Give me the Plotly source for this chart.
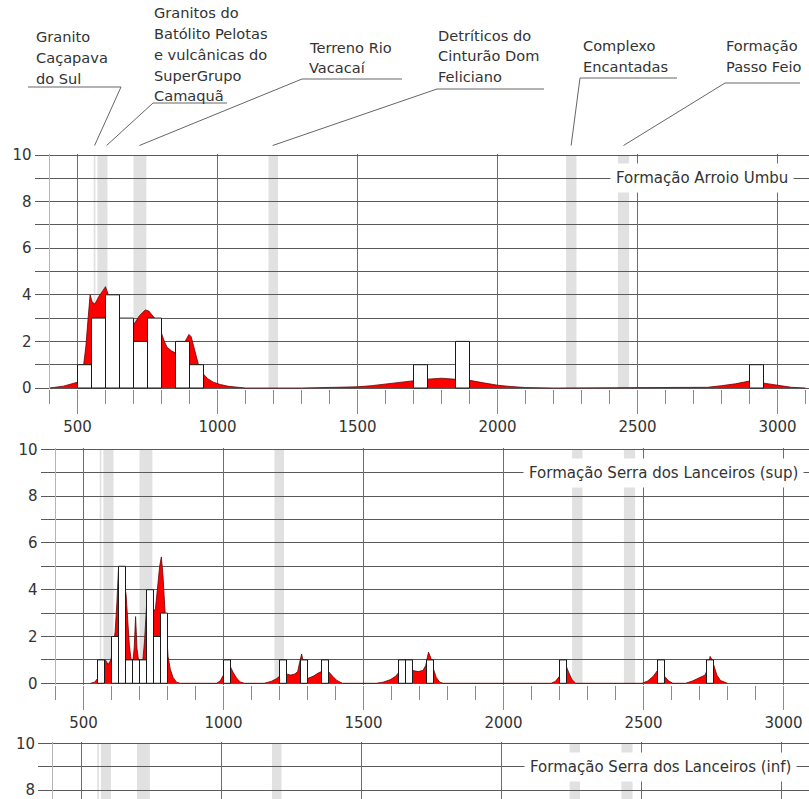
import plotly.graph_objects as go

W, H = 809, 799

# ---------------- data ----------------
# reference age bands (Ma)
band_lo = [558, 571, 700, 1182, 2245, 2430]
band_hi = [564, 607, 746, 1216, 2282, 2470]
band_target = [561, 604, 721, 1197, 2263, 2450]
band_labels = [
    ["Granito", "Caçapava", "do Sul"],
    ["Granitos do", "Batólito Pelotas", "e vulcânicas do", "SuperGrupo", "Camaquã"],
    ["Terreno Rio", "Vacacaí"],
    ["Detríticos do", "Cinturão Dom", "Feliciano"],
    ["Complexo", "Encantadas"],
    ["Formação", "Passo Feio"],
]

panel_names = ["Formação Arroio Umbu",
               "Formação Serra dos Lanceiros (sup)",
               "Formação Serra dos Lanceiros (inf)"]

# Panel 1 histogram (bin width 50)
p1_bin_left = [500, 550, 600, 650, 700, 750, 850, 900, 1700, 1850, 2900]
p1_counts = [1, 3, 4, 3, 2, 3, 2, 1, 1, 2, 1]
p1_bin_width = 50
# Panel 1 density curve
p1_kde_x = [400, 450, 500, 512, 522, 530, 538, 545, 552, 562, 575, 590, 600, 610, 630, 650,
            675, 700, 721, 742, 755, 775, 790, 800, 810, 820, 835, 850, 865, 880, 892, 898,
            906, 915, 925, 932, 942, 952, 965, 985, 1010, 1040, 1070, 1100,
            1300, 1400, 1500, 1550, 1600, 1650, 1700, 1750, 1800, 1850, 1900, 1950, 2000,
            2050, 2100, 2200,
            2700, 2750, 2800, 2850, 2900, 2950, 3000, 3050, 3100]
p1_kde_y = [0, 0.08, 0.25, 0.5, 1.0, 1.8, 3.0, 4.0, 3.7, 3.6, 3.9, 4.2, 4.35, 4.0, 3.6, 3.0,
            2.8, 2.7, 3.1, 3.35, 3.3, 3.0, 2.7, 2.35, 2.0, 1.75, 1.6, 1.5, 1.6, 1.9, 2.2, 2.3,
            2.2, 1.8, 1.3, 1.0, 0.7, 0.55, 0.4, 0.25, 0.15, 0.07, 0.02, 0,
            0, 0.01, 0.05, 0.1, 0.17, 0.25, 0.33, 0.38, 0.42, 0.38, 0.33, 0.22, 0.12,
            0.06, 0.02, 0,
            0, 0.03, 0.1, 0.18, 0.3, 0.2, 0.1, 0.03, 0]

# Panel 2 histogram (bin width 25)
p2_bin_left = [550, 600, 625, 650, 675, 700, 725, 750, 775, 1000, 1200, 1275, 1350,
               1625, 1650, 1725, 2200, 2550, 2725]
p2_counts = [1, 2, 5, 1, 1, 1, 4, 2, 3, 1, 1, 1, 1, 1, 1, 1, 1, 1, 1]
p2_bin_width = 25
p2_kde_x = [525, 540, 550, 560, 570, 578, 588, 598, 606, 613, 619, 625, 635, 645, 652, 658,
            664, 670, 676, 681, 686, 691, 697, 705, 712, 718, 725, 737, 748, 757, 765, 772,
            778, 784, 790, 797, 802, 810, 820, 832, 845,
            975, 988, 1000, 1012, 1025, 1035, 1048, 1060, 1075,
            1145, 1170, 1190, 1200, 1212, 1225, 1240, 1255, 1265, 1272, 1279, 1285, 1292,
            1300, 1320, 1340, 1350, 1365, 1375, 1390, 1405, 1425,
            1545, 1570, 1595, 1615, 1625, 1650, 1675, 1695, 1712, 1722, 1732, 1740, 1750,
            1760, 1772, 1785,
            2170, 2185, 2200, 2212, 2225, 2235, 2245, 2258,
            2495, 2515, 2535, 2550, 2562, 2575, 2590, 2605,
            2650, 2675, 2700, 2720, 2728, 2738, 2745, 2752, 2762, 2775, 2790, 2800]
p2_kde_y = [0, 0.05, 0.2, 0.7, 0.95, 1.0, 0.8, 1.0, 1.6, 2.2, 3.4, 4.9, 4.7, 4.3, 3.8, 2.6,
            1.6, 1.0, 0.9, 1.5, 2.85, 1.5, 0.95, 0.9, 1.0, 1.8, 3.3, 3.6, 3.0, 3.2, 4.2, 5.0,
            5.4, 4.6, 3.3, 2.0, 1.15, 0.6, 0.25, 0.05, 0,
            0, 0.1, 0.35, 0.7, 0.7, 0.45, 0.2, 0.06, 0,
            0, 0.08, 0.2, 0.3, 0.4, 0.4, 0.35, 0.4, 0.5, 0.9, 1.25, 0.9, 0.35,
            0.2, 0.3, 0.45, 0.5, 0.5, 0.5, 0.3, 0.12, 0,
            0, 0.05, 0.15, 0.3, 0.45, 0.5, 0.55, 0.5, 0.55, 0.75, 1.33, 1.1, 0.6,
            0.25, 0.05, 0,
            0, 0.08, 0.3, 0.6, 0.7, 0.4, 0.15, 0,
            0, 0.1, 0.3, 0.55, 0.5, 0.3, 0.1, 0,
            0, 0.1, 0.25, 0.35, 0.6, 1.15, 1.0, 0.7, 0.35, 0.12, 0.03, 0]

y_tick_vals = [0, 2, 4, 6, 8, 10]
x_tick_vals = [500, 1000, 1500, 2000, 2500, 3000]

# ---------------- layout geometry (pixels) ----------------
panels_geo = [
    dict(left=49.5, ytop=155.0, yunit=23.3, bottom=None),
    dict(left=55.5, ytop=449.3, yunit=23.4, bottom=None),
    dict(left=53.0, ytop=743.5, yunit=23.3, bottom=799.0),
]
XSCALE = 0.28  # px per Ma
PAD = 0.06
GRID = "#5a5a5a"
TXT = "#333333"
FONT = "DejaVu Sans"


def fx(px):
    return px / W


def fy(py):
    return 1 - py / H


fig = go.Figure()
layout_axes = {}
shapes = []
annotations = []

hist_data = [(p1_bin_left, p1_counts, p1_bin_width, p1_kde_x, p1_kde_y),
             (p2_bin_left, p2_counts, p2_bin_width, p2_kde_x, p2_kde_y),
             None]

for i, g in enumerate(panels_geo):
    n = i + 1
    xa = "x" if n == 1 else f"x{n}"
    ya = "y" if n == 1 else f"y{n}"
    xmax = 400 + (W - g["left"]) / XSCALE
    top_px = g["ytop"] - PAD * g["yunit"]
    if g["bottom"] is None:
        ymin = -PAD
        bot_px = g["ytop"] + 10 * g["yunit"] + PAD * g["yunit"]
    else:
        bot_px = g["bottom"]
        ymin = 10 - (bot_px - g["ytop"]) / g["yunit"]
    ymax = 10 + PAD

    layout_axes["xaxis" if n == 1 else f"xaxis{n}"] = dict(
        domain=[fx(g["left"]), 1.0], range=[400, xmax], anchor=ya,
        tickvals=x_tick_vals, showgrid=True, gridcolor="#6e6e6e", gridwidth=1,
        zeroline=False, showline=False, automargin=False,
        ticks="outside", ticklen=24, tickcolor="#8a8a8a", tickwidth=1,
        minor=dict(dtick=100, tick0=0, ticks="outside", ticklen=14,
                   tickcolor="#8a8a8a", showgrid=False),
        showticklabels=(g["bottom"] is None),
        tickfont=dict(family=FONT, size=15, color=TXT),
        fixedrange=True,
    )
    layout_axes["yaxis" if n == 1 else f"yaxis{n}"] = dict(
        domain=[fy(bot_px), fy(top_px)], range=[ymin, ymax], anchor=xa,
        tickvals=y_tick_vals, showgrid=True, gridcolor=GRID, gridwidth=1,
        zeroline=False, showline=True, linecolor="#b5b5b5", linewidth=1,
        automargin=False, ticklabeloverflow="allow",
        ticks="outside", ticklen=14, tickcolor=GRID, tickwidth=1,
        minor=dict(dtick=1, tick0=0, ticks="outside", ticklen=14, tickcolor=GRID,
                   showgrid=True, gridcolor=GRID, gridwidth=1),
        tickfont=dict(family=FONT, size=15, color=TXT),
        fixedrange=True,
    )

    # reference bands
    for lo, hi in zip(band_lo, band_hi):
        shapes.append(dict(type="rect", xref=xa, yref=ya, x0=lo, x1=hi,
                           y0=max(0, ymin), y1=10, fillcolor="#e1e1e1",
                           line=dict(width=0), layer="below"))

    if hist_data[i] is not None:
        lefts, counts, bw, kx, ky = hist_data[i]
        fig.add_trace(go.Scatter(
            x=kx, y=ky, xaxis=xa, yaxis=ya, mode="lines", fill="tozeroy",
            fillcolor="#ff0000", line=dict(color="#6a0000", width=0.8),
            hoverinfo="skip", showlegend=False))
        bx, by = [], []
        for l, c in zip(lefts, counts):
            if c <= 0:
                continue
            bx += [l, l, l + bw, l + bw, l, None]
            by += [0, c, c, 0, 0, None]
        fig.add_trace(go.Scatter(
            x=bx, y=by, xaxis=xa, yaxis=ya, mode="lines", fill="toself",
            fillcolor="white", line=dict(color="#1a1a1a", width=1),
            hoverinfo="skip", showlegend=False))
    else:
        fig.add_trace(go.Scatter(x=[None], y=[None], xaxis=xa, yaxis=ya,
                                 mode="lines", showlegend=False))

# panel titles (centred on the y=9 grid line)
title_cx = [701.5, 663.5, 660.0]
for i, (g, name) in enumerate(zip(panels_geo, panel_names)):
    annotations.append(dict(
        text=name, xref="paper", yref="paper",
        x=fx(title_cx[i]), y=fy(g["ytop"] + g["yunit"]),
        xanchor="center", yanchor="middle", showarrow=False,
        font=dict(family=FONT, size=15, color=TXT),
        bgcolor="white", borderpad=5))

# band labels with leader lines
lab_x = [35, 153, 308, 437, 582, 725]
lab_y0 = [37, 13, 47, 35, 46, 46]
line_gap = 20.7
underline = [(28, 121, 87), (153, 227, 103), (302, 402, 79),
             (437, 544, 89), (580, 677, 78), (725, 800, 83)]
knee_x = [121, 153, 302, 437, 580, 725]
target_py = 145.5
left1 = panels_geo[0]["left"]
for k, lines in enumerate(band_labels):
    for j, t in enumerate(lines):
        annotations.append(dict(
            text=t, xref="paper", yref="paper",
            x=fx(lab_x[k] - 1), y=fy(lab_y0[k] + j * line_gap),
            xanchor="left", yanchor="middle", showarrow=False,
            font=dict(family=FONT, size=14.6, color=TXT)))
    ux0, ux1, uy = underline[k]
    tx = left1 + (band_target[k] - 400) * XSCALE
    shapes.append(dict(type="line", xref="paper", yref="paper",
                       x0=fx(ux0), x1=fx(ux1), y0=fy(uy), y1=fy(uy),
                       line=dict(color="#666666", width=1)))
    shapes.append(dict(type="line", xref="paper", yref="paper",
                       x0=fx(knee_x[k]), x1=fx(tx), y0=fy(uy), y1=fy(target_py),
                       line=dict(color="#666666", width=1)))

fig.update_layout(
    width=W, height=H,
    margin=dict(l=0, r=0, t=0, b=0, pad=0, autoexpand=False),
    paper_bgcolor="white", plot_bgcolor="white",
    showlegend=False, shapes=shapes, annotations=annotations,
    font=dict(family=FONT, color=TXT),
    **layout_axes,
)

# place the 809x799 figure flush with the browser window (no default page margin)
post = ("document.body.style.margin='0';"
        "document.body.style.overflow='hidden';"
        "document.documentElement.style.overflow='hidden';"
        "var d=document.getElementById('{plot_id}');"
        "d.style.position='fixed';d.style.left='0px';d.style.top='0px';")
fig.write_html("out.html", post_script=post,
               config={"displayModeBar": False, "staticPlot": True})
